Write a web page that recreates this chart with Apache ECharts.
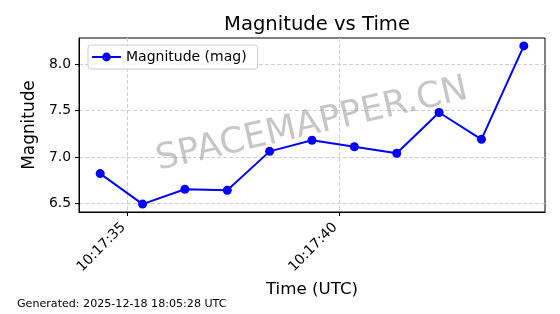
<!DOCTYPE html>
<html>
<head>
<meta charset="utf-8">
<script src="https://cdn.jsdelivr.net/npm/echarts@6/dist/echarts.min.js"></script>
<style>
html,body{margin:0;padding:0;background:#fff;}
#c{width:560px;height:314px;}
</style>
</head>
<body>
<div id="c"></div>
<script>
const times = ['10:17:34.35','10:17:35.35','10:17:36.35','10:17:37.35','10:17:38.35','10:17:39.35','10:17:40.35','10:17:41.35','10:17:42.35','10:17:43.35','10:17:44.35'];
const magnitudes = [6.82, 6.49, 6.65, 6.64, 7.06, 7.18, 7.11, 7.04, 7.48, 7.19, 8.20];
const xTickLabels = ['10:17:35', '10:17:40'];
const yTickValues = [6.5, 7.0, 7.5, 8.0];

const FONT = 'DejaVu Sans';
function toSec(s){ const p = s.split(':'); return (+p[0])*3600 + (+p[1])*60 + parseFloat(p[2]); }
function fmt(v){
  const t = Math.round(v);
  const h = Math.floor(t/3600), m = Math.floor((t%3600)/60), s = t%60;
  const pad = n => (n<10?'0':'')+n;
  return h + ':' + pad(m) + ':' + pad(s);
}
const xs = times.map(toSec);
const xTicks = xTickLabels.map(toSec);
const xMinD = Math.min(...xs), xMaxD = Math.max(...xs);
const yMinD = Math.min(...magnitudes), yMaxD = Math.max(...magnitudes);
const xPad = (xMaxD - xMinD) * 0.05, yPad = (yMaxD - yMinD) * 0.05;

const chart = echarts.init(document.getElementById('c'), null, {renderer:'canvas'});
chart.setOption({
  animation: false,
  textStyle: {fontFamily: FONT},
  title: {
    text: 'Magnitude vs Time',
    left: 312, top: 10, textAlign: 'center',
    textStyle: {fontFamily: FONT, fontSize: 19.6, fontWeight: 'normal', color: '#000'}
  },
  legend: {
    left: 88, top: 45,
    padding: [5, 11, 5, 3],
    itemWidth: 29, itemHeight: 11, itemGap: 10,
    borderColor: '#cccccc', borderWidth: 1, borderRadius: 3,
    backgroundColor: 'rgba(255,255,255,0.8)',
    textStyle: {fontFamily: FONT, fontSize: 14, color: '#000'},
    data: ['Magnitude (mag)']
  },
  grid: {
    left: 79, right: 15, top: 38, bottom: 102,
    show: true, borderColor: '#000', borderWidth: 1,
    containLabel: false, outerBoundsMode: 'none'
  },
  xAxis: {
    type: 'value',
    min: xMinD - xPad, max: xMaxD + xPad,
    name: 'Time (UTC)', nameLocation: 'middle', nameGap: 66,
    nameTextStyle: {fontFamily: FONT, fontSize: 16.7, color: '#000'},
    axisLine: {show: true, onZero: false, lineStyle: {color: '#000', width: 1}},
    axisTick: {show: true, length: 4, lineStyle: {color: '#000'}, customValues: xTicks},
    axisLabel: {
      customValues: xTicks, rotate: 45, margin: 9,
      padding: [0, 6, 0, 0],
      fontFamily: FONT, fontSize: 13.9, color: '#000',
      formatter: v => fmt(v)
    },
    splitLine: {show: true, lineStyle: {color: '#d0d0d0', width: 1, type: [4, 2]}}
  },
  yAxis: {
    type: 'value',
    min: yMinD - yPad, max: yMaxD + yPad,
    name: 'Magnitude', nameLocation: 'middle', nameGap: 33, nameRotate: 90,
    nameTextStyle: {fontFamily: FONT, fontSize: 16.9, color: '#000'},
    axisLine: {show: true, lineStyle: {color: '#000', width: 1}},
    axisTick: {show: true, length: 4, lineStyle: {color: '#000'}, customValues: yTickValues},
    axisLabel: {
      customValues: yTickValues, margin: 8,
      fontFamily: FONT, fontSize: 13.9, color: '#000',
      formatter: v => v.toFixed(1)
    },
    splitLine: {show: true, lineStyle: {color: '#d0d0d0', width: 1, type: [4, 2]}}
  },
  graphic: [
    {
      type: 'text', x: 312, y: 125, rotation: 13 * Math.PI / 180, z: 100,
      style: {text: 'SPACEMAPPER.CN', fontFamily: FONT, fontSize: 35.5, fill: 'rgba(128,128,128,0.45)', align: 'center', verticalAlign: 'middle'}
    },
    {
      type: 'text', left: 17, top: 299,
      style: {text: 'Generated: 2025-12-18 18:05:28 UTC', fontFamily: FONT, fontSize: 11.1, fill: '#000'}
    }
  ],
  series: [{
    name: 'Magnitude (mag)',
    type: 'line',
    data: xs.map((x, i) => [x, magnitudes[i]]),
    symbol: 'circle', symbolSize: 9,
    showAllSymbol: true,
    lineStyle: {color: '#0000ff', width: 2},
    itemStyle: {color: '#0000ff'},
    emphasis: {disabled: true}
  }]
});
</script>
</body>
</html>
